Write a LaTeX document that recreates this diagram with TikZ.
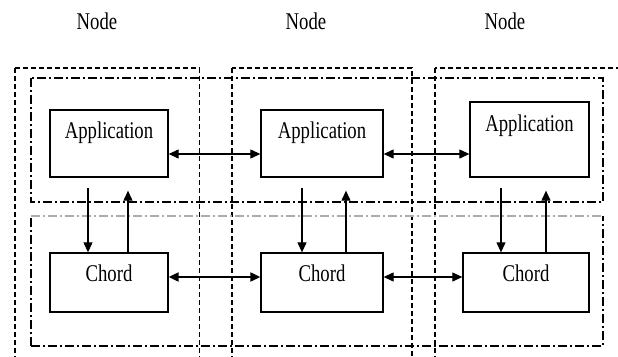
\documentclass[tikz,border=0pt]{standalone}
\usepackage{fontspec}
\setmainfont{Liberation Serif}
\newfontfamily\tfont[FakeStretch=0.78]{Liberation Serif}
\usetikzlibrary{arrows.meta,calc}
\begin{document}
\begin{tikzpicture}[x=1pt,y=-1pt,
  every node/.style={font=\tfont\fontsize{24}{24}\selectfont, inner sep=0pt},
  box/.style={draw, line width=1.3pt, rectangle, text height=16pt},
  nodebox/.style={draw, line width=1.1pt, dash pattern=on 5pt off 3pt},
  layerbox/.style={draw, line width=1.1pt, dash pattern=on 9pt off 3pt on 2pt off 3pt},
  arr/.style={line width=1.1pt, -{Triangle[length=10pt,width=9pt]}},
  darr/.style={line width=1.1pt, {Triangle[length=10pt,width=9pt]}-{Triangle[length=10pt,width=9pt]}}
]
\useasboundingbox (0,0) rectangle (618,356);
\clip (0,0) rectangle (618,356);
% node labels
\node (n1) at (97,21) {Node};
\node (n2) at (306,21) {Node};
\node (n3) at (505,21) {Node};
% node boxes (dashed)
\draw[nodebox] (15,68) rectangle (199.5,362);
\draw[nodebox] (232,68) rectangle (412,362);
\draw[nodebox] (435,68) rectangle (630,362);
% layer boxes (dash-dot)
\draw[layerbox] (31,78) rectangle (603,202);
\draw[layerbox] (31,346) -- (31,216);
\draw[layerbox] (31,346) -- (603,346) -- (603,216);
\draw[layerbox, draw=gray!65, line width=1.4pt] (31,216) -- (603,216);
% application boxes
\node[box, minimum width=118pt, minimum height=67pt, text depth=26pt, fill=white] (a1) at (109,143.5) {Application};
\node[box, minimum width=122pt, minimum height=67pt, text depth=26pt, fill=white] (a2) at (322,143.5) {Application};
\node[box, minimum width=119pt, minimum height=75pt, text depth=32pt, fill=white] (a3) at (529.5,139.5) {Application};
% chord boxes
\node[box, minimum width=118pt, minimum height=59pt, text depth=17.5pt, fill=white] (c1) at (109,282.5) {Chord};
\node[box, minimum width=122pt, minimum height=59pt, text depth=17.5pt, fill=white] (c2) at (322,282.5) {Chord};
\node[box, minimum width=126pt, minimum height=59pt, text depth=17.5pt, fill=white] (c3) at (526,282.5) {Chord};
% horizontal arrows
\draw[darr] ($(a1.east)+(0,10.5)$) -- ($(a2.west)+(0,10.5)$);
\draw[darr] ($(a2.east)+(0,10.5)$) -- ($(a2.east -| a3.west)+(0,10.5)$);
\draw[darr, line width=2pt] ($(c1.east)+(0,-5.5)$) -- ($(c2.west)+(0,-5.5)$);
\draw[darr] ($(c2.east)+(0,-5.5)$) -- ($(c3.west)+(0,-5.5)$);
% vertical arrows
\draw[arr] ($(a1.south)+(-21,10)$) -- ($(c1.north)+(-21,0)$);
\draw[arr] ($(c1.north)+(19,0)$) -- ($(a1.south)+(19,13)$);
\draw[arr] ($(a2.south)+(-20,10)$) -- ($(c2.north)+(-20,0)$);
\draw[arr] ($(c2.north)+(24,0)$) -- ($(a2.south)+(24,13)$);
\draw[arr] ($(c3.north |- a3.south)+(-25,10)$) -- ($(c3.north)+(-25,0)$);
\draw[arr] ($(c3.north)+(20,0)$) -- ($(c3.north |- a3.south)+(20,13)$);
\end{tikzpicture}
\end{document}
